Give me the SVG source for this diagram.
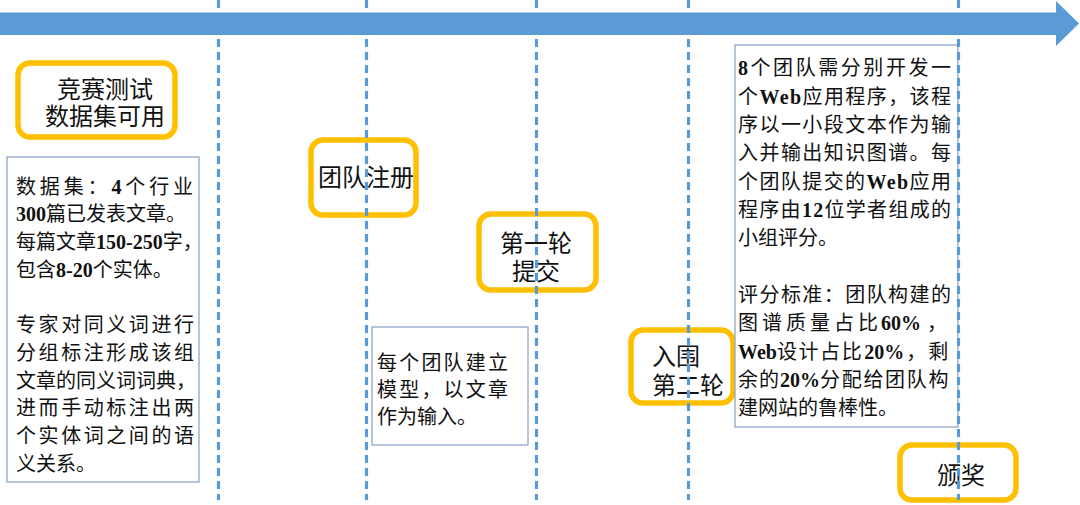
<svg xmlns="http://www.w3.org/2000/svg" width="1080" height="505" viewBox="0 0 1080 505">
<style>
.ob{fill:#fff;stroke:#FFC000;stroke-width:5.5}
.tb{fill:#fff;stroke:#8EA6C8;stroke-width:1.3}
.t{font-family:"Noto Sans CJK SC","Noto Sans",sans-serif;fill:#111}
.big{font-size:24px}
.sm{font-size:20px}
.n{font-family:"Liberation Serif","Noto Serif",serif;font-weight:bold}
.dash{stroke:#5B9BD5;stroke-width:3.2;stroke-dasharray:8 5;fill:none}
</style>
<rect width="1080" height="505" fill="#fff"/>
<g id="timeline">
<polygon points="0,12.5 1056,12.5 1056,1 1079,23.5 1056,46 1056,35 0,35" fill="#5B9BD5"/>
</g>
<g id="n1">
<rect class="ob" x="18" y="63" width="157" height="74" rx="12"/>
<text class="t big" x="105" y="98" text-anchor="middle">竞赛测试</text>
<text class="t big" x="105" y="125" text-anchor="middle">数据集可用</text>
</g>
<g id="n2">
<rect class="tb" x="7" y="157" width="192" height="325"/>
<text class="t sm" x="16" y="193.5" textLength="177" lengthAdjust="spacing">数据集：<tspan class="n">4</tspan>个行业</text>
<text class="t sm" x="16" y="221"><tspan class="n">300</tspan>篇已发表文章。</text>
<text class="t sm" x="16" y="249">每篇文章<tspan class="n">150-250</tspan>字，</text>
<text class="t sm" x="16" y="277">包含<tspan class="n">8-20</tspan>个实体。</text>
<text class="t sm" x="16" y="332" textLength="178" lengthAdjust="spacing">专家对同义词进行</text>
<text class="t sm" x="16" y="360" textLength="178" lengthAdjust="spacing">分组标注形成该组</text>
<text class="t sm" x="16" y="387.5">文章的同义词词典，</text>
<text class="t sm" x="16" y="415" textLength="178" lengthAdjust="spacing">进而手动标注出两</text>
<text class="t sm" x="16" y="443" textLength="178" lengthAdjust="spacing">个实体词之间的语</text>
<text class="t sm" x="16" y="471">义关系。</text>
</g>
<g id="n3">
<rect class="ob" x="311" y="140" width="105" height="75" rx="12"/>
<text class="t big" x="366" y="186" text-anchor="middle">团队注册</text>
</g>
<g id="n4">
<rect class="ob" x="479" y="214" width="117" height="76" rx="12"/>
<text class="t big" x="536" y="252" text-anchor="middle">第一轮</text>
<text class="t big" x="536" y="280" text-anchor="middle">提交</text>
</g>
<g id="n5">
<rect class="tb" x="372" y="327" width="156" height="118"/>
<text class="t sm" x="377" y="370" textLength="131" lengthAdjust="spacing">每个团队建立</text>
<text class="t sm" x="377" y="397" textLength="131" lengthAdjust="spacing">模型，以文章</text>
<text class="t sm" x="377" y="424">作为输入。</text>
</g>
<g id="n6">
<rect class="ob" x="631" y="330" width="102" height="73" rx="12"/>
<text class="t big" x="652" y="365">入围</text>
<text class="t big" x="652" y="394">第二轮</text>
</g>
<g id="n7">
<rect class="tb" x="735" y="45" width="223" height="382"/>
<text class="t sm" x="738" y="75" textLength="213" lengthAdjust="spacing"><tspan class="n">8</tspan>个团队需分别开发一</text>
<text class="t sm" x="738" y="103.5" textLength="213" lengthAdjust="spacing">个<tspan class="n">Web</tspan>应用程序，该程</text>
<text class="t sm" x="738" y="132" textLength="213" lengthAdjust="spacing">序以一小段文本作为输</text>
<text class="t sm" x="738" y="160" textLength="213" lengthAdjust="spacing">入并输出知识图谱。每</text>
<text class="t sm" x="738" y="188.5" textLength="213" lengthAdjust="spacing">个团队提交的<tspan class="n">Web</tspan>应用</text>
<text class="t sm" x="738" y="217" textLength="213" lengthAdjust="spacing">程序由<tspan class="n">12</tspan>位学者组成的</text>
<text class="t sm" x="738" y="245">小组评分。</text>
<text class="t sm" x="738" y="302" textLength="213" lengthAdjust="spacing">评分标准：团队构建的</text>
<text class="t sm" x="738" y="330"><tspan letter-spacing="4">图谱质量占比</tspan><tspan class="n" dx="-1">60%</tspan><tspan dx="6">，</tspan></text>
<text class="t sm" x="738" y="358.5"><tspan class="n">Web</tspan><tspan letter-spacing="1.6">设计占比</tspan><tspan class="n" dx="1">20%</tspan><tspan letter-spacing="2" dx="2">，剩</tspan></text>
<text class="t sm" x="738" y="387"><tspan letter-spacing="1">余的</tspan><tspan class="n">20%</tspan><tspan letter-spacing="1.7">分配给团队构</tspan></text>
<text class="t sm" x="738" y="415">建网站的鲁棒性。</text>
</g>
<g id="n8">
<rect class="ob" x="900" y="445" width="116" height="55" rx="12"/>
<text class="t big" x="961" y="484" text-anchor="middle">颁奖</text>
</g>
<g id="connectors">
<line class="dash" x1="218.5" y1="0" x2="218.5" y2="500"/>
<line class="dash" x1="366.5" y1="0" x2="366.5" y2="500"/>
<line class="dash" x1="536.5" y1="0" x2="536.5" y2="500"/>
<line class="dash" x1="688.5" y1="0" x2="688.5" y2="500"/>
<line class="dash" x1="958.5" y1="0" x2="958.5" y2="500"/>
</g>
</svg>
